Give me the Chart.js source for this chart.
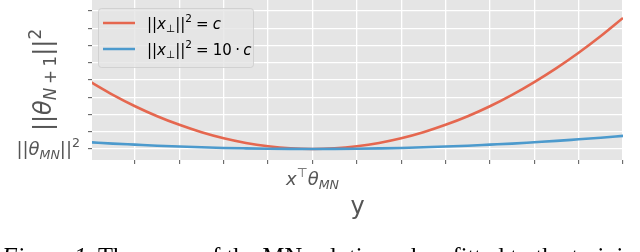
<!DOCTYPE html>
<html>
<head>
<meta charset="utf-8">
<script src="https://cdn.jsdelivr.net/npm/chart.js@4/dist/chart.umd.min.js"></script>
<style>
  html, body { margin: 0; padding: 0; background: #fff; }
  #wrap { position: relative; width: 640px; height: 252px; overflow: hidden; }
  #caption {
    position: absolute; left: 2px; top: 257px;
    font-family: "Liberation Serif", "Times New Roman", serif;
    font-size: 24.5px; line-height: 0; white-space: nowrap; color: #000;
  }
</style>
</head>
<body>
<div id="wrap">
  <canvas id="myChart" width="640" height="252"></canvas>
  <div id="caption"><i>Figure 1.</i> The norm of the MN solution when fitted to the training data</div>
</div>
<script>
// values (x in tick units, 0 = x^T theta_MN)
var xValues = [-5, -4.5, -4, -3.5, -3, -2.5, -2, -1.5, -1, -0.5, 0, 0.5, 1, 1.5, 2, 2.5, 3, 3.5, 4, 4.5, 5, 5.5, 6, 6.5, 7];
var normC = [3.88, 3.14, 2.48, 1.90, 1.40, 0.97, 0.62, 0.35, 0.16, 0.04, 0.00, 0.04, 0.16, 0.35, 0.62, 0.97, 1.40, 1.90, 2.48, 3.14, 3.88, 4.69, 5.58, 6.55, 7.60];
var norm10C = [0.39, 0.31, 0.25, 0.19, 0.14, 0.10, 0.06, 0.035, 0.016, 0.004, 0.00, 0.004, 0.016, 0.035, 0.06, 0.10, 0.14, 0.19, 0.25, 0.31, 0.39, 0.47, 0.56, 0.65, 0.76];
var xTicks = [-4, -3, -2, -1, 0, 1, 2, 3, 4, 5, 6, 7];
var yTicks = [0, 1, 2, 3, 4, 5, 6, 7, 8];

var red = '#E5674F';
var blue = '#4C9ACD';
var FONT = '"DejaVu Sans", sans-serif';

// small mathtext-like writer: n normal, i italic, sub/subi subscript, sup superscript, gap (em)
function segFont(style, F) {
  var small = (style == 'sub' || style == 'subi' || style == 'sup');
  var it = (style == 'i' || style == 'subi');
  return { font: (it ? 'italic ' : '') + (small ? F * 0.7 : F) + 'px ' + FONT,
           dy: style == 'sup' ? -0.42 * F : (small ? 0.22 * F : 0) };
}
function segWidth(ctx, s, F) {
  if (s[1] == 'gap') return s[0] * F;
  ctx.font = segFont(s[1], F).font;
  return ctx.measureText(s[0]).width;
}
function drawRich(ctx, segs, x, y, F, align, color) {
  var w = 0;
  segs.forEach(function (s) { w += segWidth(ctx, s, F); });
  var cx = align == 'center' ? x - w / 2 : (align == 'right' ? x - w : x);
  ctx.fillStyle = color;
  ctx.textBaseline = 'alphabetic';
  ctx.textAlign = 'left';
  segs.forEach(function (s) {
    if (s[1] != 'gap') {
      var f = segFont(s[1], F);
      ctx.font = f.font;
      ctx.fillText(s[0], cx, y + f.dy);
    }
    cx += segWidth(ctx, s, F);
  });
}

var plotBg = {
  id: 'plotBg',
  beforeDraw: function (chart) {
    var a = chart.chartArea, ctx = chart.ctx;
    ctx.save();
    ctx.fillStyle = '#E5E5E5';
    ctx.fillRect(a.left, a.top, a.right - a.left, a.bottom - a.top);
    ctx.restore();
  }
};

var mathText = {
  id: 'mathText',
  afterDraw: function (chart) {
    var ctx = chart.ctx;
    var ys = chart.scales.y, xs = chart.scales.x;
    ctx.save();
    // y tick label
    drawRich(ctx, [['||', 'n'], ['\u03B8', 'i'], ['MN', 'subi'], ['||', 'n'], ['2', 'sup']],
      80, ys.getPixelForValue(0) + 6, 18, 'right', '#555');
    // x tick label
    drawRich(ctx, [['x', 'i'], ['\u22A4', 'sup'], ['\u03B8', 'i'], ['MN', 'subi']],
      xs.getPixelForValue(0), 185, 18, 'center', '#555');
    // y axis label (rotated)
    ctx.save();
    ctx.translate(51, 80);
    ctx.rotate(-Math.PI / 2);
    drawRich(ctx, [['||', 'n'], ['\u03B8', 'i'], ['N', 'subi'], [0.15, 'gap'], ['+', 'sub'], [0.15, 'gap'], ['1', 'sub'], ['||', 'n'], ['2', 'sup']],
      0, 0, 24, 'center', '#555');
    ctx.restore();

    // legend
    ctx.fillStyle = 'rgba(229,229,229,0.8)';
    ctx.strokeStyle = 'rgba(204,204,204,0.8)';
    ctx.lineWidth = 1;
    ctx.beginPath();
    ctx.roundRect(98.5, 8.5, 155, 59, 3);
    ctx.fill();
    ctx.stroke();
    var base = [['||', 'n'], ['x', 'i'], ['\u22A5', 'sub'], ['||', 'n'], ['2', 'sup'], [0.278, 'gap'], ['=', 'n'], [0.278, 'gap']];
    var rows = [
      [red, 23, 28.5, base.concat([['c', 'i']])],
      [blue, 49, 54.5, base.concat([['10', 'n'], [0.222, 'gap'], ['\u00B7', 'n'], [0.222, 'gap'], ['c', 'i']])]
    ];
    rows.forEach(function (r) {
      ctx.strokeStyle = r[0];
      ctx.lineWidth = 2.5;
      ctx.beginPath();
      ctx.moveTo(103, r[1]);
      ctx.lineTo(135, r[1]);
      ctx.stroke();
      drawRich(ctx, r[3], 147, r[2], 15, 'left', '#000');
    });
    ctx.restore();
  }
};

function toPoints(ys) {
  return xValues.map(function (x, i) { return { x: x, y: ys[i] }; });
}

var ctx = document.getElementById('myChart');
var chart = new Chart(ctx, {
  type: 'line',
  data: {
    datasets: [{
      label: '||x⊥||² = c',
      data: toPoints(normC),
      borderColor: red,
      borderWidth: 2.6,
      pointRadius: 0,
      cubicInterpolationMode: 'monotone',
      order: 2
    }, {
      label: '||x⊥||² = 10 · c',
      data: toPoints(norm10C),
      borderColor: blue,
      borderWidth: 2.6,
      pointRadius: 0,
      cubicInterpolationMode: 'monotone',
      order: 1
    }]
  },
  options: {
    responsive: false,
    animation: false,
    devicePixelRatio: 1,
    layout: { padding: { left: 0, right: 17, top: 0, bottom: 0 } },
    plugins: { legend: { display: false }, tooltip: { enabled: false } },
    scales: {
      x: {
        type: 'linear',
        min: -4.97,
        max: 7,
        afterBuildTicks: function (s) { s.ticks = xTicks.map(function (v) { return { value: v }; }); },
        afterFit: function (s) { s.height = 92; },
        border: { display: false },
        grid: { color: '#fff', lineWidth: 1.3, tickColor: '#555', tickWidth: 1, tickLength: 4 },
        ticks: { display: false },
        title: {
          display: true, text: 'y', color: '#555',
          font: { family: FONT, size: 24 },
          padding: { top: 0, bottom: 30 }
        }
      },
      y: {
        type: 'linear',
        min: -0.64,
        max: 8.64,
        afterBuildTicks: function (s) { s.ticks = yTicks.map(function (v) { return { value: v }; }); },
        afterFit: function (s) { s.width = 92; },
        border: { display: false },
        grid: { color: '#fff', lineWidth: 1.3, tickColor: '#555', tickWidth: 1, tickLength: 4 },
        ticks: { display: false }
      }
    }
  },
  plugins: [plotBg, mathText]
});
</script>
</body>
</html>
